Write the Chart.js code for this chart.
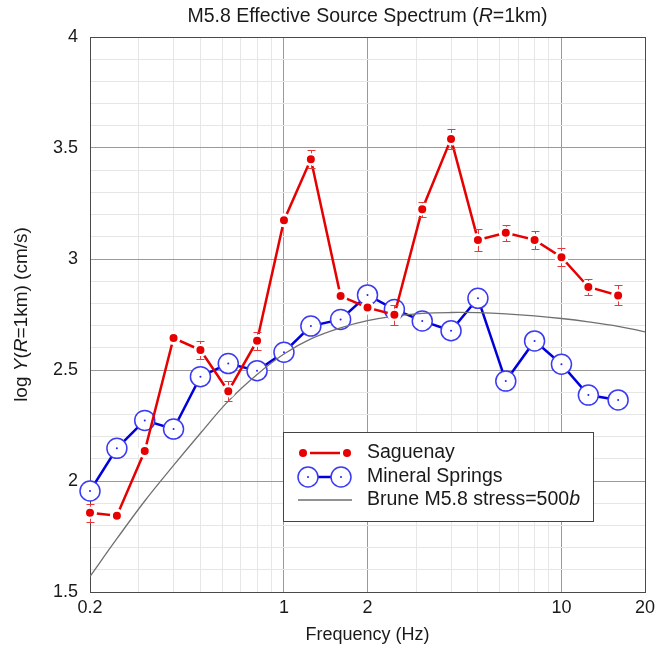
<!DOCTYPE html>
<html><head><meta charset="utf-8">
<script src="https://cdn.jsdelivr.net/npm/chart.js@4.4.1/dist/chart.umd.min.js"></script>
<style>html,body{margin:0;padding:0;background:#fff}#c{display:block}</style>
</head><body><canvas id="c" width="666" height="652"></canvas>
<script>
// ---- data ----
const freqs = [0.2,0.25,0.315,0.4,0.5,0.63,0.8,1.0,1.25,1.6,2.0,2.5,3.15,4.0,5.0,6.3,8.0,10,12.5,16];
const saguenay = [1.857,1.844,2.135,2.644,2.590,2.404,2.632,3.174,3.449,2.833,2.781,2.749,3.224,3.541,3.086,3.118,3.086,3.008,2.874,2.836];
const saguenayErr = [0.04,0,0,0,0.04,0.045,0.04,0,0.04,0,0,0.045,0.035,0.045,0.05,0.035,0.04,0.04,0.035,0.045];
const mineralSprings = [1.955,2.147,2.273,2.234,2.470,2.529,2.497,2.580,2.698,2.728,2.838,2.773,2.721,2.677,2.823,2.450,2.631,2.526,2.387,2.365];
const bruneFreqs = [0.2,0.25,0.315,0.4,0.5,0.63,0.8,1,1.25,1.6,2,2.5,3.15,4,5,6.3,8,10,12.5,16,20];
const bruneVals = [1.57,1.74,1.91,2.07,2.215,2.36,2.48,2.572,2.64,2.69,2.722,2.743,2.755,2.759,2.758,2.753,2.744,2.732,2.717,2.697,2.672];
const xGridValues = [0.2,0.3,0.4,0.5,0.6,0.7,0.8,0.9,1,2,3,4,5,6,7,8,9,10,20];
const xTickLabels = [0.2,1,2,10,20];
const xMajorGrid = [1,2,10];
const yTickLabels = [1.5,2,2.5,3,3.5,4];

const FONT = '"Liberation Sans", Arial, Helvetica, sans-serif';
const near = (a,b)=>Math.abs(a-b)<1e-6;

function drawRich(ctx, parts, x, y, size, align){
  let w = 0;
  parts.forEach(p=>{ ctx.font = (p.i?'italic ':'') + size + 'px ' + FONT; p.w = ctx.measureText(p.t).width; w += p.w; });
  let cx = align==='left' ? x : x - w/2;
  ctx.textAlign = 'left';
  parts.forEach(p=>{ ctx.font = (p.i?'italic ':'') + size + 'px ' + FONT; ctx.fillText(p.t, cx, y); cx += p.w; });
}

const framePlugin = {
  id:'frame',
  beforeDatasetsDraw(chart){
    const {ctx, chartArea:a} = chart;
    ctx.save(); ctx.strokeStyle='#4a4a4a'; ctx.lineWidth=1;
    ctx.strokeRect(Math.round(a.left)+0.5, Math.round(a.top)+0.5, Math.round(a.right-a.left), Math.round(a.bottom-a.top));
    ctx.restore();
  }
};

const errPlugin = {
  id:'err',
  afterDatasetsDraw(chart){
    const {ctx} = chart; const xs = chart.scales.x, ys = chart.scales.y;
    ctx.save(); ctx.strokeStyle='#e8383b'; ctx.lineWidth=1;
    freqs.forEach((f,i)=>{
      const e = saguenayErr[i]; if(!e) return;
      const px = Math.round(xs.getPixelForValue(f))+0.5;
      const c = ys.getPixelForValue(saguenay[i]);
      const t = Math.round(ys.getPixelForValue(saguenay[i]+e))+0.5;
      const b = Math.round(ys.getPixelForValue(saguenay[i]-e))+0.5;
      ctx.beginPath();
      if (c-6 > t){ ctx.moveTo(px,t); ctx.lineTo(px,c-6); }
      if (c+6 < b){ ctx.moveTo(px,c+6); ctx.lineTo(px,b); }
      ctx.moveTo(px-4,t); ctx.lineTo(px+4,t);
      ctx.moveTo(px-4,b); ctx.lineTo(px+4,b);
      ctx.stroke();
    });
    ctx.restore();
  }
};

const textPlugin = {
  id:'texts',
  afterDraw(chart){
    const {ctx, chartArea:a} = chart;
    const cx = (a.left+a.right)/2, cy = (a.top+a.bottom)/2;
    ctx.save();
    ctx.fillStyle = '#1a1a1a'; ctx.textBaseline = 'middle';
    drawRich(ctx, [{t:'M5.8 Effective Source Spectrum ('},{t:'R',i:true},{t:'=1km)'}], cx, 17, 19.5);
    drawRich(ctx, [{t:'Frequency (Hz)'}], cx, 635, 18);
    ctx.save(); ctx.translate(22, cy); ctx.rotate(-Math.PI/2);
    drawRich(ctx, [{t:'log '},{t:'Y',i:true},{t:'('},{t:'R',i:true},{t:'=1km) (cm/s)'}], 0, 0, 19);
    ctx.restore();
    // legend
    const L = 283.5, T = 432.5, W = 310, H = 89;
    ctx.fillStyle = '#fff'; ctx.fillRect(L, T, W, H);
    ctx.strokeStyle = '#444'; ctx.lineWidth = 1; ctx.strokeRect(L, T, W, H);
    // row 1
    let y = 453;
    ctx.strokeStyle = '#e60000'; ctx.lineWidth = 2.5;
    ctx.beginPath(); ctx.moveTo(310,y); ctx.lineTo(340,y); ctx.stroke();
    ctx.fillStyle = '#e60000';
    [303,347].forEach(px=>{ ctx.beginPath(); ctx.arc(px,y,4,0,Math.PI*2); ctx.fill(); });
    // row 2
    y = 477;
    ctx.strokeStyle = '#0000dd'; ctx.lineWidth = 2.5;
    ctx.beginPath(); ctx.moveTo(318,y); ctx.lineTo(331,y); ctx.stroke();
    ctx.strokeStyle = '#3a3af5'; ctx.lineWidth = 1.5;
    [308,341].forEach(px=>{ ctx.beginPath(); ctx.arc(px,y,10,0,Math.PI*2); ctx.stroke();
      ctx.fillStyle='#2020ff'; ctx.beginPath(); ctx.arc(px,y,1,0,Math.PI*2); ctx.fill(); });
    // row 3
    y = 500;
    ctx.strokeStyle = '#6e6e6e'; ctx.lineWidth = 1.3;
    ctx.beginPath(); ctx.moveTo(298,y); ctx.lineTo(352,y); ctx.stroke();
    ctx.fillStyle = '#1a1a1a';
    drawRich(ctx, [{t:'Saguenay'}], 367, 453, 19.5, 'left');
    drawRich(ctx, [{t:'Mineral Springs'}], 367, 477, 19.5, 'left');
    drawRich(ctx, [{t:'Brune M5.8 stress=500'},{t:'b',i:true}], 367, 500, 19.5, 'left');
    ctx.restore();
  }
};

const pts = (xs, ys) => xs.map((x,i)=>({x:x, y:ys[i]}));

new Chart(document.getElementById('c'), {
  type:'line',
  data:{datasets:[
    {label:'Saguenay', data:pts(freqs,saguenay), borderColor:'#e60000', borderWidth:2.5,
     pointRadius:5.5, pointBorderWidth:3, pointBackgroundColor:'#e60000', pointBorderColor:'#ffffff',
     order:0, clip:false, tension:0},
    {label:'msdots', data:pts(freqs,mineralSprings), showLine:false, pointRadius:1,
     pointBackgroundColor:'#2020ff', pointBorderWidth:0, order:1, clip:false},
    {label:'Brune', data:pts(bruneFreqs,bruneVals), borderColor:'#707070', borderWidth:1.3,
     pointRadius:0, tension:0.4, order:2},
    {label:'Mineral Springs', data:pts(freqs,mineralSprings), borderColor:'#0000dd', borderWidth:2.5,
     pointRadius:10, pointBorderWidth:1.5, pointBorderColor:'#3a3af5', pointBackgroundColor:'#ffffff',
     order:3, clip:false, tension:0}
  ]},
  options:{
    responsive:false, animation:false, events:[],
    layout:{padding:{top:37, right:21, left:0, bottom:0}},
    plugins:{legend:{display:false}, title:{display:false}, tooltip:{enabled:false}},
    scales:{
      x:{type:'logarithmic', min:0.2, max:20,
        afterBuildTicks(ax){ ax.ticks = xGridValues.map(v=>({value:v})); },
        afterFit(ax){ ax.height = 60; },
        ticks:{autoSkip:false, maxRotation:0, minRotation:0, padding:5, color:'#1a1a1a',
          font:{family:FONT, size:18},
          callback(v){ const l = xTickLabels.find(t=>near(t,v)); return l===undefined ? '' : String(l); }},
        grid:{drawTicks:false, lineWidth:1,
          color(c){ const v = c.tick ? c.tick.value : 0; return xMajorGrid.some(m=>near(m,v)) ? '#9a9a9a' : '#e6e6e6'; }},
        border:{display:true, color:'#4a4a4a'}
      },
      y:{type:'linear', min:1.5, max:4,
        afterBuildTicks(ax){ const t=[]; for(let k=15;k<=40;k++) t.push({value:k/10}); ax.ticks = t; },
        afterFit(ax){ ax.width = 90; },
        ticks:{autoSkip:false, padding:12, color:'#1a1a1a', font:{family:FONT, size:18},
          callback(v){ const l = yTickLabels.find(t=>near(t,v)); return l===undefined ? '' : String(l); }},
        grid:{drawTicks:false, lineWidth:1,
          color(c){ const v = c.tick ? c.tick.value : 0; return yTickLabels.some(m=>near(m,v)) ? '#9a9a9a' : '#e6e6e6'; }},
        border:{display:true, color:'#4a4a4a'}
      }
    }
  },
  plugins:[framePlugin, errPlugin, textPlugin]
});
</script>
</body></html>
